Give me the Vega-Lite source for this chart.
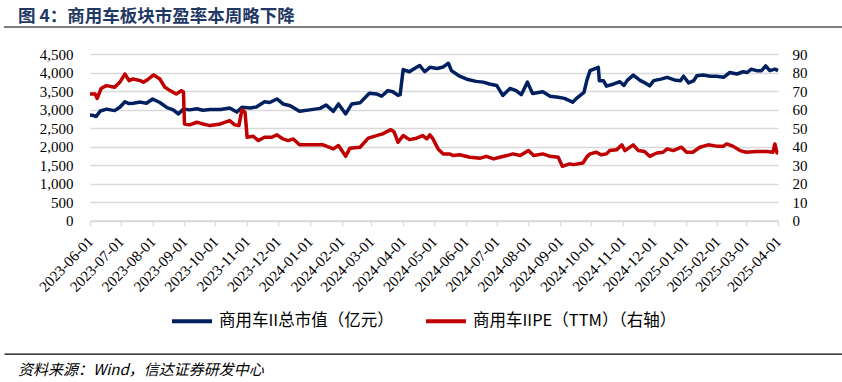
{
  "$schema": "https://vega.github.io/schema/vega-lite/v6.json",
  "padding": {"top": 6, "left": 4, "right": 0, "bottom": 2},
  "config": {
    "font": "Liberation Serif",
    "view": {"stroke": null},
    "axis": {"labelFont": "Liberation Serif", "labelColor": "#000000", "title": null},
    "legend": {"layout": {"bottom": {"anchor": "middle"}}}
  },
  "datasets": {
    "mv": [
      {"d": "2023-06-01", "v": 2850}, {"d": "2023-06-04", "v": 2840}, {"d": "2023-06-07", "v": 2810}, {"d": "2023-06-11", "v": 2960},
      {"d": "2023-06-17", "v": 3010}, {"d": "2023-06-25", "v": 2970}, {"d": "2023-06-30", "v": 3060}, {"d": "2023-07-05", "v": 3210},
      {"d": "2023-07-09", "v": 3160}, {"d": "2023-07-13", "v": 3170}, {"d": "2023-07-20", "v": 3200}, {"d": "2023-07-26", "v": 3170},
      {"d": "2023-08-01", "v": 3285}, {"d": "2023-08-08", "v": 3190}, {"d": "2023-08-15", "v": 3050}, {"d": "2023-08-21", "v": 2990},
      {"d": "2023-08-26", "v": 2880}, {"d": "2023-08-31", "v": 3010}, {"d": "2023-09-06", "v": 2990}, {"d": "2023-09-13", "v": 3020},
      {"d": "2023-09-19", "v": 2980}, {"d": "2023-09-26", "v": 3000}, {"d": "2023-10-06", "v": 3000}, {"d": "2023-10-15", "v": 3040},
      {"d": "2023-10-22", "v": 2930}, {"d": "2023-10-27", "v": 3060}, {"d": "2023-11-04", "v": 3040}, {"d": "2023-11-10", "v": 3070},
      {"d": "2023-11-18", "v": 3210}, {"d": "2023-11-23", "v": 3190}, {"d": "2023-11-30", "v": 3285}, {"d": "2023-12-06", "v": 3150},
      {"d": "2023-12-13", "v": 3100}, {"d": "2023-12-22", "v": 2950}, {"d": "2024-01-01", "v": 2990}, {"d": "2024-01-11", "v": 3030},
      {"d": "2024-01-17", "v": 3120}, {"d": "2024-01-24", "v": 2950}, {"d": "2024-01-29", "v": 3150}, {"d": "2024-02-05", "v": 2880},
      {"d": "2024-02-11", "v": 3150}, {"d": "2024-02-19", "v": 3180}, {"d": "2024-02-28", "v": 3440}, {"d": "2024-03-06", "v": 3420},
      {"d": "2024-03-11", "v": 3360}, {"d": "2024-03-17", "v": 3510}, {"d": "2024-03-22", "v": 3480}, {"d": "2024-03-27", "v": 3380},
      {"d": "2024-03-29", "v": 3400}, {"d": "2024-04-01", "v": 4080}, {"d": "2024-04-07", "v": 4020}, {"d": "2024-04-12", "v": 4110},
      {"d": "2024-04-17", "v": 4190}, {"d": "2024-04-22", "v": 4020}, {"d": "2024-04-27", "v": 4140}, {"d": "2024-05-04", "v": 4110},
      {"d": "2024-05-10", "v": 4150}, {"d": "2024-05-15", "v": 4250}, {"d": "2024-05-18", "v": 4050}, {"d": "2024-05-26", "v": 3900},
      {"d": "2024-06-03", "v": 3810}, {"d": "2024-06-11", "v": 3760}, {"d": "2024-06-18", "v": 3740}, {"d": "2024-06-24", "v": 3690},
      {"d": "2024-07-01", "v": 3650}, {"d": "2024-07-07", "v": 3380}, {"d": "2024-07-14", "v": 3570}, {"d": "2024-07-20", "v": 3510},
      {"d": "2024-07-25", "v": 3400}, {"d": "2024-07-31", "v": 3740}, {"d": "2024-08-05", "v": 3430}, {"d": "2024-08-15", "v": 3480},
      {"d": "2024-08-22", "v": 3360}, {"d": "2024-08-30", "v": 3330}, {"d": "2024-09-05", "v": 3300}, {"d": "2024-09-13", "v": 3200},
      {"d": "2024-09-18", "v": 3330}, {"d": "2024-09-24", "v": 3460}, {"d": "2024-09-27", "v": 3800}, {"d": "2024-09-30", "v": 4050},
      {"d": "2024-10-08", "v": 4140}, {"d": "2024-10-09", "v": 3780}, {"d": "2024-10-13", "v": 3780}, {"d": "2024-10-16", "v": 3630},
      {"d": "2024-10-23", "v": 3690}, {"d": "2024-10-29", "v": 3750}, {"d": "2024-11-02", "v": 3650}, {"d": "2024-11-05", "v": 3780},
      {"d": "2024-11-11", "v": 3930}, {"d": "2024-11-18", "v": 3780}, {"d": "2024-11-21", "v": 3740}, {"d": "2024-11-27", "v": 3640},
      {"d": "2024-12-01", "v": 3780}, {"d": "2024-12-08", "v": 3820}, {"d": "2024-12-14", "v": 3870}, {"d": "2024-12-21", "v": 3800},
      {"d": "2024-12-27", "v": 3780}, {"d": "2024-12-30", "v": 3900}, {"d": "2025-01-04", "v": 3720}, {"d": "2025-01-09", "v": 3780},
      {"d": "2025-01-12", "v": 3915}, {"d": "2025-01-18", "v": 3930}, {"d": "2025-01-25", "v": 3900}, {"d": "2025-01-31", "v": 3900},
      {"d": "2025-02-07", "v": 3870}, {"d": "2025-02-13", "v": 4000}, {"d": "2025-02-20", "v": 3960}, {"d": "2025-02-26", "v": 4020},
      {"d": "2025-03-02", "v": 4000}, {"d": "2025-03-06", "v": 4090}, {"d": "2025-03-11", "v": 4050}, {"d": "2025-03-16", "v": 4050},
      {"d": "2025-03-20", "v": 4180}, {"d": "2025-03-24", "v": 4050}, {"d": "2025-03-29", "v": 4090}, {"d": "2025-04-01", "v": 4050}
    ],
    "pe": [
      {"d": "2023-06-01", "v": 68.4}, {"d": "2023-06-06", "v": 68.4}, {"d": "2023-06-08", "v": 66}, {"d": "2023-06-12", "v": 71.5},
      {"d": "2023-06-17", "v": 72.9}, {"d": "2023-06-25", "v": 72}, {"d": "2023-06-30", "v": 74.7}, {"d": "2023-07-05", "v": 79.2},
      {"d": "2023-07-09", "v": 75.6}, {"d": "2023-07-13", "v": 76.5}, {"d": "2023-07-20", "v": 75.6}, {"d": "2023-07-23", "v": 74.7},
      {"d": "2023-07-28", "v": 76.5}, {"d": "2023-08-02", "v": 78.7}, {"d": "2023-08-08", "v": 76.5}, {"d": "2023-08-13", "v": 72},
      {"d": "2023-08-18", "v": 70.2}, {"d": "2023-08-24", "v": 68.4}, {"d": "2023-08-29", "v": 70.2}, {"d": "2023-08-31", "v": 69.5},
      {"d": "2023-09-01", "v": 52.2}, {"d": "2023-09-06", "v": 51.7}, {"d": "2023-09-13", "v": 53.1}, {"d": "2023-09-19", "v": 52.2},
      {"d": "2023-09-26", "v": 51.3}, {"d": "2023-10-06", "v": 52.2}, {"d": "2023-10-15", "v": 54}, {"d": "2023-10-20", "v": 51.7},
      {"d": "2023-10-24", "v": 51.3}, {"d": "2023-10-27", "v": 59.9}, {"d": "2023-10-30", "v": 58.5}, {"d": "2023-11-01", "v": 45},
      {"d": "2023-11-07", "v": 45.5}, {"d": "2023-11-12", "v": 43.2}, {"d": "2023-11-18", "v": 45}, {"d": "2023-11-25", "v": 45},
      {"d": "2023-11-30", "v": 46.3}, {"d": "2023-12-06", "v": 44.1}, {"d": "2023-12-11", "v": 43.2}, {"d": "2023-12-16", "v": 44.1},
      {"d": "2023-12-22", "v": 40.9}, {"d": "2024-01-01", "v": 40.9}, {"d": "2024-01-14", "v": 40.9}, {"d": "2024-01-24", "v": 38.7},
      {"d": "2024-01-29", "v": 40.5}, {"d": "2024-02-05", "v": 34.7}, {"d": "2024-02-09", "v": 39}, {"d": "2024-02-19", "v": 39.6},
      {"d": "2024-02-27", "v": 44.5}, {"d": "2024-03-06", "v": 45.9}, {"d": "2024-03-12", "v": 46.8}, {"d": "2024-03-20", "v": 49.1},
      {"d": "2024-03-23", "v": 48}, {"d": "2024-03-27", "v": 42.3}, {"d": "2024-04-01", "v": 45.9}, {"d": "2024-04-07", "v": 43.7},
      {"d": "2024-04-14", "v": 44.5}, {"d": "2024-04-20", "v": 45.9}, {"d": "2024-04-24", "v": 44.1}, {"d": "2024-04-27", "v": 46.3},
      {"d": "2024-04-30", "v": 44.1}, {"d": "2024-05-05", "v": 38.7}, {"d": "2024-05-10", "v": 36}, {"d": "2024-05-16", "v": 36},
      {"d": "2024-05-20", "v": 35.1}, {"d": "2024-05-26", "v": 35.5}, {"d": "2024-06-05", "v": 34.2}, {"d": "2024-06-15", "v": 33.7},
      {"d": "2024-06-21", "v": 34.7}, {"d": "2024-06-28", "v": 33.3}, {"d": "2024-07-04", "v": 34.2}, {"d": "2024-07-11", "v": 35.1},
      {"d": "2024-07-17", "v": 36}, {"d": "2024-07-24", "v": 35.1}, {"d": "2024-08-01", "v": 37.8}, {"d": "2024-08-06", "v": 35.1},
      {"d": "2024-08-15", "v": 36}, {"d": "2024-08-22", "v": 34.7}, {"d": "2024-08-30", "v": 34.2}, {"d": "2024-09-03", "v": 29.3},
      {"d": "2024-09-10", "v": 30.6}, {"d": "2024-09-14", "v": 30.2}, {"d": "2024-09-23", "v": 31.1}, {"d": "2024-09-27", "v": 34.5},
      {"d": "2024-09-30", "v": 36}, {"d": "2024-10-06", "v": 36.9}, {"d": "2024-10-11", "v": 35.5}, {"d": "2024-10-16", "v": 36},
      {"d": "2024-10-19", "v": 37.8}, {"d": "2024-10-26", "v": 38.3}, {"d": "2024-10-31", "v": 40.9}, {"d": "2024-11-03", "v": 37.8},
      {"d": "2024-11-11", "v": 40.9}, {"d": "2024-11-16", "v": 37.8}, {"d": "2024-11-22", "v": 37.3}, {"d": "2024-11-27", "v": 34.7},
      {"d": "2024-12-04", "v": 36.5}, {"d": "2024-12-10", "v": 36.9}, {"d": "2024-12-14", "v": 38.7}, {"d": "2024-12-20", "v": 37.8},
      {"d": "2024-12-28", "v": 39.6}, {"d": "2025-01-02", "v": 36.9}, {"d": "2025-01-08", "v": 36.9}, {"d": "2025-01-15", "v": 39.6},
      {"d": "2025-01-23", "v": 40.9}, {"d": "2025-01-31", "v": 40.2}, {"d": "2025-02-07", "v": 40.2}, {"d": "2025-02-10", "v": 41.4},
      {"d": "2025-02-16", "v": 40.2}, {"d": "2025-02-23", "v": 37.8}, {"d": "2025-03-01", "v": 36.9}, {"d": "2025-03-11", "v": 37.3},
      {"d": "2025-03-21", "v": 37.3}, {"d": "2025-03-27", "v": 36.9}, {"d": "2025-03-29", "v": 41.4}, {"d": "2025-03-31", "v": 36.5},
      {"d": "2025-04-01", "v": 36.5}
    ],
    "blank": [{"k": 0}]
  },
  "columns": 1,
  "spacing": 13,
  "resolve": {"scale": {"color": "independent"}, "legend": {"color": "independent"}},
  "concat": [
    {
      "width": 838,
      "height": 0.01,
      "view": {"stroke": "#7f7f7f", "strokeWidth": 2},
      "title": {
        "text": "图 4：商用车板块市盈率本周略下降",
        "anchor": "start",
        "font": "Noto Sans CJK SC",
        "fontSize": 17.5,
        "fontWeight": "bold",
        "color": "#1f3864",
        "offset": -4,
        "dx": 13
      },
      "data": {"name": "blank"},
      "mark": {"type": "text", "text": ""},
      "encoding": {}
    },
    {
      "spacing": 0,
      "resolve": {"scale": {"color": "independent"}, "legend": {"color": "independent"}},
      "hconcat": [
        {
          "width": 31,
          "height": 10,
          "data": {"name": "blank"},
          "mark": {"type": "text", "text": ""},
          "encoding": {}
        },
        {
          "width": 688,
          "height": 166.5,
          "resolve": {"scale": {"y": "independent"}},
          "layer": [
            {
              "data": {"name": "mv"},
              "mark": {"type": "line", "strokeWidth": 3.5, "strokeJoin": "round"},
              "encoding": {
                "x": {
                  "field": "d",
                  "type": "temporal",
                  "scale": {"type": "utc", "domain": [{"year": 2023, "month": 6, "date": 1, "utc": true}, {"year": 2025, "month": 4, "date": 1, "utc": true}], "nice": false},
                  "axis": {
                    "format": "%Y-%m-%d",
                    "tickCount": {"interval": "month", "step": 1},
                    "labelAngle": -46,
                    "labelFont": "Liberation Serif, Times New Roman, serif",
                    "labelFontSize": 15,
                    "labelOverlap": false,
                    "labelBound": false,
                    "labelFlush": false,
                    "labelPadding": 13,
                    "domainColor": "#d9d9d9",
                    "domainWidth": 1.5,
                    "tickColor": "#d9d9d9",
                    "tickWidth": 1.3,
                    "tickSize": 5,
                    "grid": false
                  }
                },
                "y": {
                  "field": "v",
                  "type": "quantitative",
                  "scale": {"domain": [0, 4500], "nice": false, "zero": true},
                  "axis": {
                    "orient": "left",
                    "values": [0, 500, 1000, 1500, 2000, 2500, 3000, 3500, 4000, 4500],
                    "format": ",.0f",
                    "labelFont": "Liberation Serif, Times New Roman, serif",
                    "labelFontSize": 15,
                    "labelPadding": 17,
                    "domain": false,
                    "ticks": false,
                    "grid": true,
                    "gridColor": "#d9d9d9",
                    "gridWidth": 1.3
                  }
                },
                "color": {
                  "datum": "商用车II总市值（亿元）",
                  "type": "nominal",
                  "scale": {"domain": ["商用车II总市值（亿元）", "商用车IIPE（TTM）（右轴）"], "range": ["#002060", "#c00000"]},
                  "legend": {
                    "orient": "bottom",
                    "direction": "horizontal",
                    "title": " ",
                    "titleOrient": "right",
                    "titlePadding": 23,
                    "titleFontSize": 11,
                    "symbolType": "stroke",
                    "symbolStrokeWidth": 4,
                    "symbolSize": 1600,
                    "labelFont": "Noto Sans CJK SC",
                    "labelFontSize": 16.5,
                    "labelColor": "#000000",
                    "labelOffset": 5,
                    "labelLimit": 400,
                    "columnPadding": 24,
                    "padding": 4,
                    "offset": 0
                  }
                }
              }
            },
            {
              "data": {"name": "pe"},
              "mark": {"type": "line", "strokeWidth": 3.5, "strokeJoin": "round"},
              "encoding": {
                "x": {"field": "d", "type": "temporal"},
                "y": {
                  "field": "v",
                  "type": "quantitative",
                  "scale": {"domain": [0, 90], "nice": false, "zero": true},
                  "axis": {
                    "orient": "right",
                    "values": [0, 10, 20, 30, 40, 50, 60, 70, 80, 90],
                    "labelFont": "Liberation Serif, Times New Roman, serif",
                    "labelFontSize": 15,
                    "labelPadding": 14,
                    "domain": false,
                    "ticks": false,
                    "grid": false
                  }
                },
                "color": {"datum": "商用车IIPE（TTM）（右轴）", "type": "nominal"}
              }
            }
          ]
        }
      ]
    },
    {
      "width": 838,
      "height": 0.01,
      "view": {"stroke": "#000000", "strokeWidth": 1.3},
      "title": {
        "text": "资料来源：Wind，信达证券研发中心",
        "orient": "bottom",
        "anchor": "start",
        "font": "Noto Sans CJK SC",
        "fontSize": 15,
        "fontStyle": "italic",
        "fontWeight": "normal",
        "color": "#000000",
        "offset": 4,
        "dx": 13
      },
      "data": {"name": "blank"},
      "mark": {"type": "text", "text": ""},
      "encoding": {}
    }
  ]
}
